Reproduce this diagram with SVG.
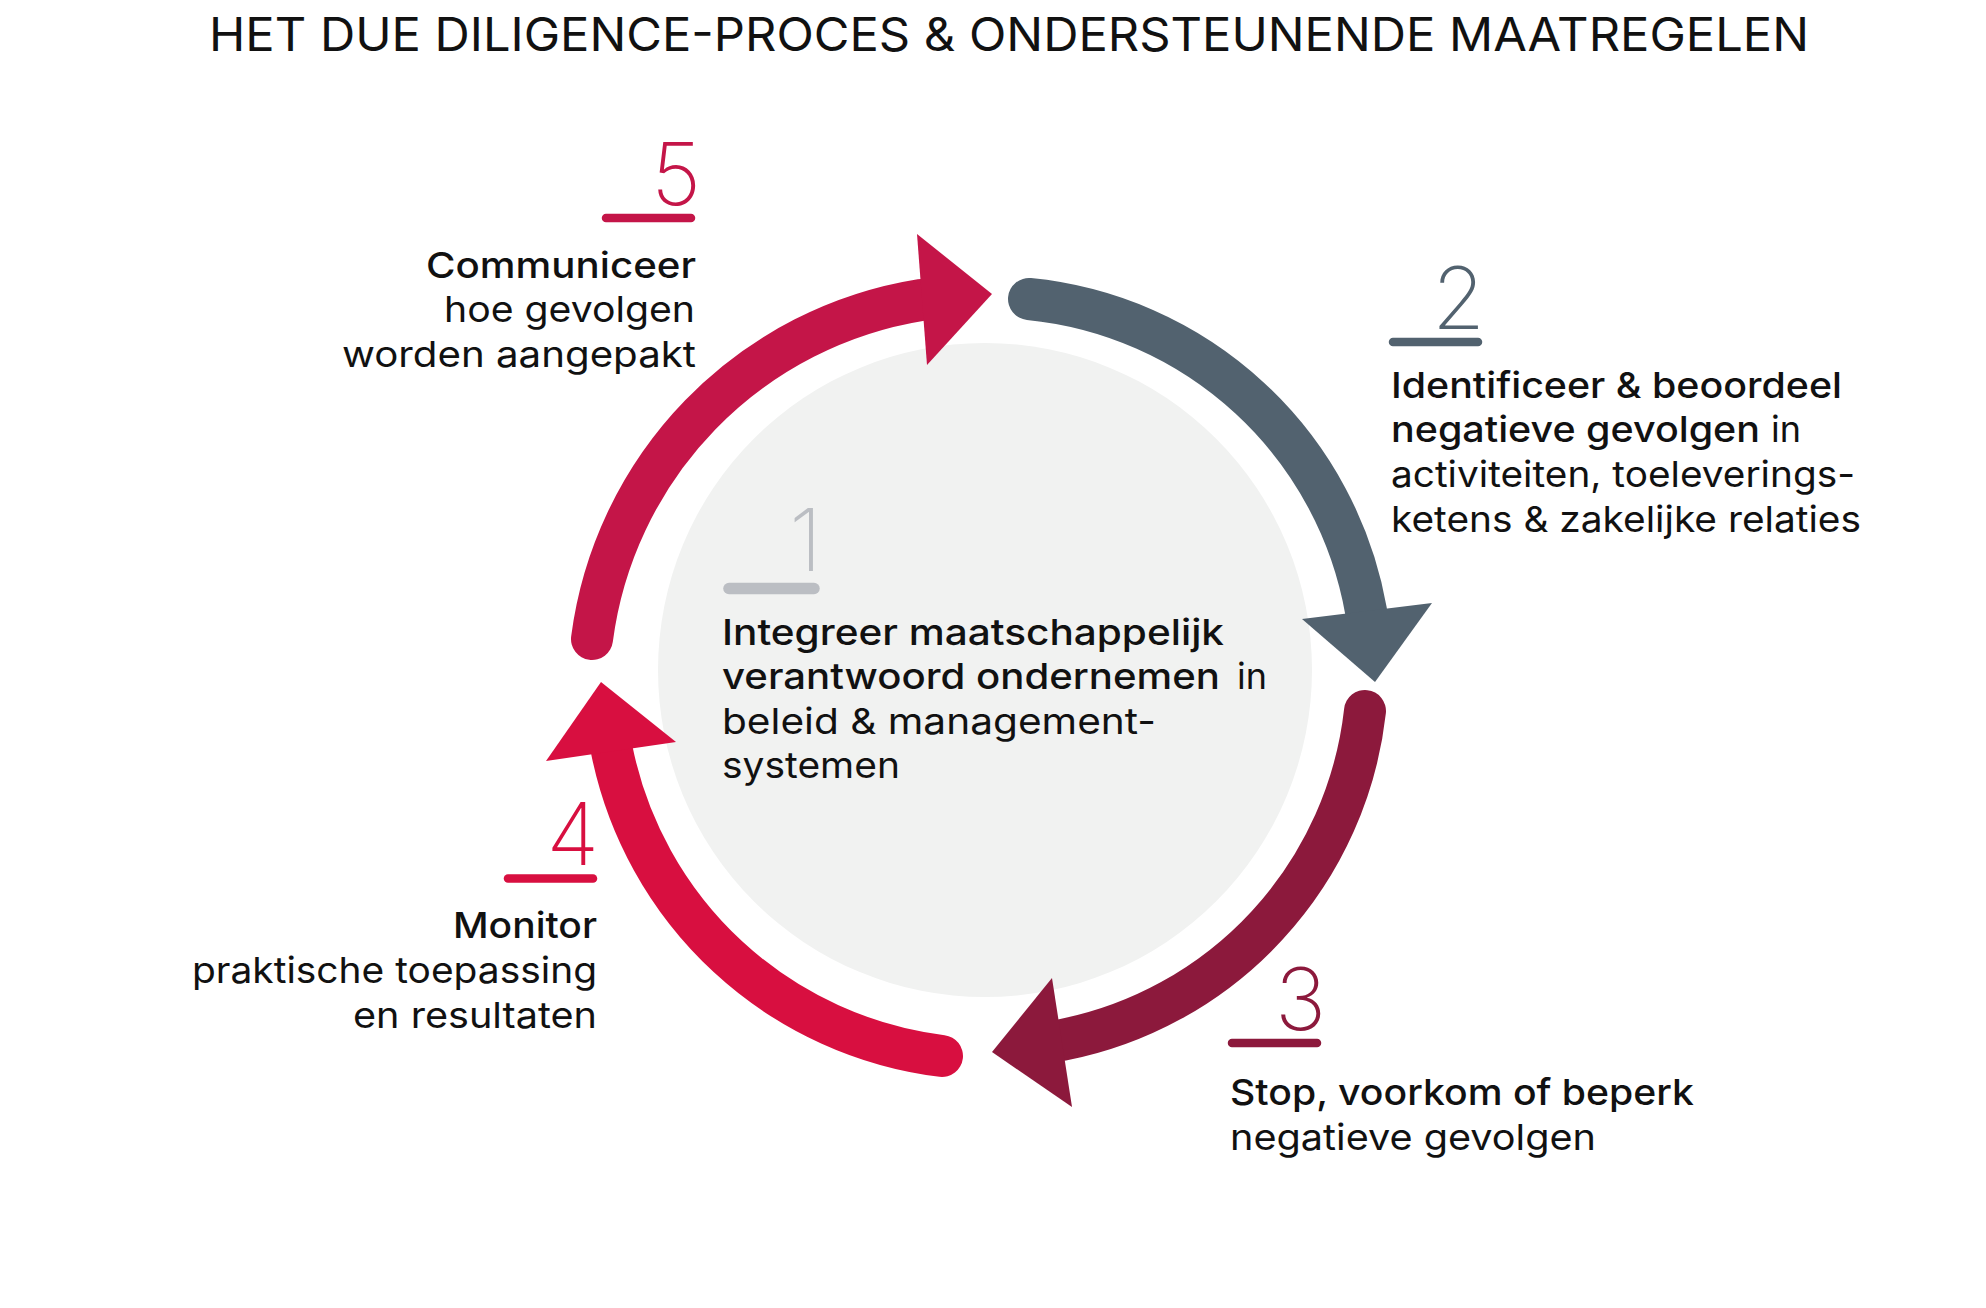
<svg xmlns="http://www.w3.org/2000/svg" width="1986" height="1308" viewBox="0 0 1986 1308">
<style>
text { font-family: Inter, "Noto Sans", "DejaVu Sans", sans-serif; fill: #111111; }
.t { font-size: 36px; font-weight: 400; }
.m { font-weight: 500; }
.num { font-size: 86px; font-weight: 200; }
.ul { fill: none; stroke-linecap: round; stroke-width: 8.5; }
.shaft { fill: none; stroke-width: 42; stroke-linecap: round; }
.c5 { stroke: #C41548; fill: #C41548; }
.c2 { stroke: #52626F; fill: #52626F; }
.c3 { stroke: #8C193C; fill: #8C193C; }
.c4 { stroke: #D80F40; fill: #D80F40; }
.c1 { stroke: #BBBEC3; fill: #BBBEC3; }
</style>
<rect width="1986" height="1308" fill="#ffffff"/>

<text id="title" x="209" y="51" font-size="47" font-weight="400" textLength="1600" lengthAdjust="spacingAndGlyphs">HET DUE DILIGENCE-PROCES &amp; ONDERSTEUNENDE MAATREGELEN</text>

<g id="node-1">
  <circle cx="985" cy="670" r="327" fill="#F1F2F1"/>
  <text class="num" x="822" y="571" text-anchor="end" style="fill:#BBBEC3">1</text>
  <line class="ul c1" x1="729" y1="588.5" x2="814" y2="588.5" style="stroke-width:11.5"/>
  <text class="t m" x="722" y="645" textLength="502" lengthAdjust="spacingAndGlyphs">Integreer maatschappelijk</text>
  <text class="t m" x="722" y="689" textLength="498" lengthAdjust="spacingAndGlyphs">verantwoord ondernemen</text>
  <text class="t" x="1237" y="689">in</text>
  <text class="t" x="722" y="734" textLength="434" lengthAdjust="spacingAndGlyphs">beleid &amp; management-</text>
  <text class="t" x="722" y="778" textLength="178" lengthAdjust="spacingAndGlyphs">systemen</text>
</g>

<g id="connectors">
  <g id="arrow-5">
    <path class="shaft c5" style="fill:none" d="M592,639 A395,395 0 0 1 921,300"/>
    <polygon class="c5" style="stroke:none" points="917,234 992,294 927,365"/>
  </g>
  <g id="arrow-2">
    <path class="shaft c2" style="fill:none" d="M1029,299 A380,380 0 0 1 1366,611"/>
    <polygon class="c2" style="stroke:none" points="1302,619 1375,682 1432,603"/>
  </g>
  <g id="arrow-3">
    <path class="shaft c3" style="fill:none" d="M1365,711 A378,378 0 0 1 1062,1040"/>
    <polygon class="c3" style="stroke:none" points="1052,978 992,1052 1072,1107"/>
  </g>
  <g id="arrow-4">
    <path class="shaft c4" style="fill:none" d="M942,1056 A385,385 0 0 1 612,751"/>
    <polygon class="c4" style="stroke:none" points="546,761 601,682 676,742"/>
  </g>
</g>

<g id="node-5">
  <text class="num" x="701" y="205" text-anchor="end" style="fill:#C41548">5</text>
  <line class="ul c5" x1="606" y1="218" x2="691" y2="218"/>
  <text class="t m" x="696" y="278" text-anchor="end" textLength="270" lengthAdjust="spacingAndGlyphs">Communiceer</text>
  <text class="t" x="695" y="322" text-anchor="end" textLength="251" lengthAdjust="spacingAndGlyphs">hoe gevolgen</text>
  <text class="t" x="696" y="367" text-anchor="end" textLength="354" lengthAdjust="spacingAndGlyphs">worden aangepakt</text>
</g>

<g id="node-2">
  <text class="num" x="1485" y="329" text-anchor="end" style="fill:#52626F">2</text>
  <line class="ul c2" x1="1393" y1="342" x2="1478" y2="342"/>
  <text class="t m" x="1391" y="398" textLength="451" lengthAdjust="spacingAndGlyphs">Identificeer &amp; beoordeel</text>
  <text class="t m" x="1391" y="442" textLength="369" lengthAdjust="spacingAndGlyphs">negatieve gevolgen</text>
  <text class="t" x="1771" y="442">in</text>
  <text class="t" x="1391" y="487" textLength="464" lengthAdjust="spacingAndGlyphs">activiteiten, toeleverings-</text>
  <text class="t" x="1391" y="532" textLength="470" lengthAdjust="spacingAndGlyphs">ketens &amp; zakelijke relaties</text>
</g>

<g id="node-3">
  <text class="num" x="1326" y="1030" text-anchor="end" style="fill:#8C193C">3</text>
  <line class="ul c3" x1="1232" y1="1043" x2="1317" y2="1043"/>
  <text class="t m" x="1230" y="1105" textLength="464" lengthAdjust="spacingAndGlyphs">Stop, voorkom of beperk</text>
  <text class="t" x="1230" y="1150" textLength="366" lengthAdjust="spacingAndGlyphs">negatieve gevolgen</text>
</g>

<g id="node-4">
  <text class="num" x="599" y="865" text-anchor="end" style="fill:#D80F40">4</text>
  <line class="ul c4" x1="508" y1="878.5" x2="593" y2="878.5"/>
  <text class="t m" x="597" y="938" text-anchor="end" textLength="144" lengthAdjust="spacingAndGlyphs">Monitor</text>
  <text class="t" x="597" y="983" text-anchor="end" textLength="405" lengthAdjust="spacingAndGlyphs">praktische toepassing</text>
  <text class="t" x="597" y="1028" text-anchor="end" textLength="244" lengthAdjust="spacingAndGlyphs">en resultaten</text>
</g>
</svg>
